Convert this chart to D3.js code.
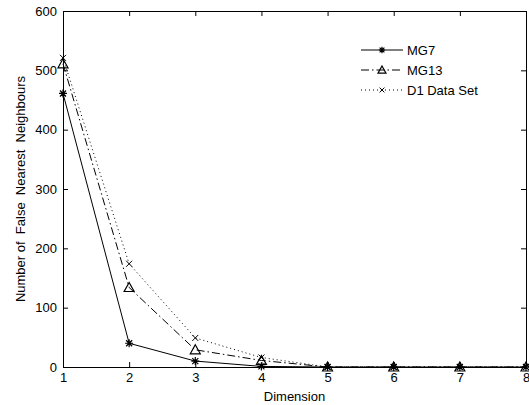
<!DOCTYPE html>
<html>
<head>
<meta charset="utf-8">
<script src="https://cdn.jsdelivr.net/npm/d3@7"></script>
<style>
  body { margin: 0; background: #fff; }
  text { font-family: Arial, "Liberation Sans", sans-serif; }
</style>
</head>
<body>
<div id="chart"></div>
<script>
var svgWidth = 529;
var svgHeight = 405;

var margin = { top: 11, right: 3, bottom: 38, left: 63 };
var width = svgWidth - margin.left - margin.right;
var height = svgHeight - margin.top - margin.bottom;

// data
var dims = [1, 2, 3, 4, 5, 6, 7, 8];
var mg7 = [461, 40, 10, 1, 0, 0, 0, 0];
var mg13 = [511, 134, 29, 11, 0, 0, 0, 0];
var d1 = [521, 174, 49, 16, 0, 0, 0, 0];
var yTicks = [0, 100, 200, 300, 400, 500, 600];
var seriesNames = ["MG7", "MG13", "D1 Data Set"];

var svg = d3.select("#chart")
  .append("svg")
  .attr("width", svgWidth)
  .attr("height", svgHeight);

var chartGroup = svg.append("g")
  .attr("transform", `translate(${margin.left}, ${margin.top})`);

var xScale = d3.scaleLinear().domain([1, 8]).range([0, width]);
var yScale = d3.scaleLinear().domain([0, 600]).range([height, 0]);

// axes, ticks inward like matlab
var bottomAxis = d3.axisBottom(xScale).tickValues(dims).tickSize(-5).tickPadding(6).tickFormat(d3.format("d"));
var leftAxis = d3.axisLeft(yScale).tickValues(yTicks).tickSize(-5).tickPadding(6);
var topAxis = d3.axisTop(xScale).tickValues(dims).tickSize(-5).tickFormat("");
var rightAxis = d3.axisRight(yScale).tickValues(yTicks).tickSize(-5).tickFormat("");

function styleAxis(g) {
  g.selectAll("path").attr("stroke", "#000").attr("stroke-width", 1);
  g.selectAll("line").attr("stroke", "#000");
  g.selectAll("text").attr("font-size", 13).attr("fill", "#000");
}

chartGroup.append("g").attr("transform", `translate(0, ${height})`).call(bottomAxis).call(styleAxis);
chartGroup.append("g").call(leftAxis).call(styleAxis);
chartGroup.append("g").call(topAxis).call(styleAxis);
chartGroup.append("g").attr("transform", `translate(${width}, 0)`).call(rightAxis).call(styleAxis);

var allSeries = [
  { name: seriesNames[0], values: mg7, dash: null, marker: "star" },
  { name: seriesNames[1], values: mg13, dash: "8,3,1.5,3", marker: "tri" },
  { name: seriesNames[2], values: d1, dash: "1,3", marker: "cross" }
];

var line = d3.line()
  .x((d, i) => xScale(dims[i]))
  .y(d => yScale(d));

function drawMarker(g, type, x, y, k) {
  k = k || 1;
  if (type === "star") {
    g.append("path")
      .attr("d", `M${x - 4 * k},${y}H${x + 4 * k}M${x},${y - 4 * k}V${y + 4 * k}M${x - 3 * k},${y - 3 * k}L${x + 3 * k},${y + 3 * k}M${x - 3 * k},${y + 3 * k}L${x + 3 * k},${y - 3 * k}`)
      .attr("stroke", "#000").attr("stroke-width", 1.2);
  } else if (type === "tri") {
    g.append("path")
      .attr("d", `M${x},${y - 5 * k}L${x + 5 * k},${y + 4 * k}L${x - 5 * k},${y + 4 * k}Z`)
      .attr("stroke", "#000").attr("fill", "none").attr("stroke-width", 1.2);
  } else {
    g.append("path")
      .attr("d", `M${x - 3 * k},${y - 3 * k}L${x + 3 * k},${y + 3 * k}M${x - 3 * k},${y + 3 * k}L${x + 3 * k},${y - 3 * k}`)
      .attr("stroke", "#000").attr("stroke-width", 1);
  }
}

allSeries.forEach(function (s) {
  chartGroup.append("path")
    .datum(s.values)
    .attr("d", line)
    .attr("fill", "none")
    .attr("stroke", "#000")
    .attr("stroke-width", 1)
    .attr("stroke-dasharray", s.dash);
  var mg = chartGroup.append("g");
  s.values.forEach(function (v, i) {
    drawMarker(mg, s.marker, xScale(dims[i]), yScale(v));
  });
});

// legend
var legend = svg.append("g").attr("transform", "translate(361, 50)");
allSeries.forEach(function (s, i) {
  var row = legend.append("g").attr("transform", `translate(0, ${i * 20})`);
  row.append("line")
    .attr("x1", 0).attr("x2", 42).attr("y1", 0).attr("y2", 0)
    .attr("stroke", "#000").attr("stroke-width", 1)
    .attr("stroke-dasharray", s.dash);
  drawMarker(row, s.marker, 21, 0, 0.8);
  row.append("text")
    .attr("x", 46).attr("y", 5)
    .attr("font-size", 13)
    .text(s.name);
});

// axis labels
svg.append("text")
  .attr("x", margin.left + width / 2)
  .attr("y", 401)
  .attr("text-anchor", "middle")
  .attr("font-size", 13)
  .text("Dimension");

svg.append("text")
  .attr("transform", `translate(25, ${margin.top + height / 2}) rotate(-90)`)
  .attr("text-anchor", "middle")
  .attr("font-size", 13)
  .style("white-space", "pre")
  .text("Number of  False  Nearest  Neighbours");
</script>
</body>
</html>
